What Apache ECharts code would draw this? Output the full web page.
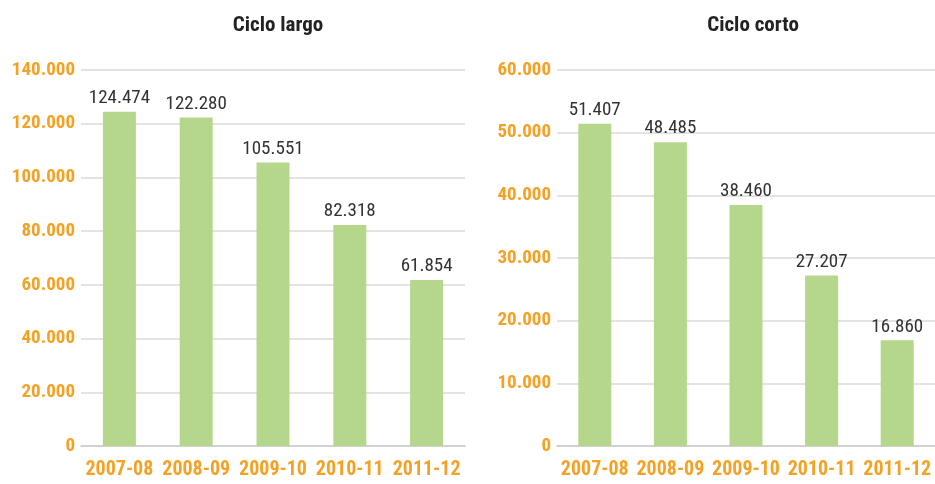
<!DOCTYPE html>
<html>
<head>
<meta charset="utf-8">
<script src="https://cdn.jsdelivr.net/npm/echarts@6/dist/echarts.min.js"></script>
<style>
  html, body { margin: 0; padding: 0; background: #fff; }
  #chart { width: 935px; height: 484px; }
</style>
</head>
<body>
<div id="chart"></div>
<script>
// School years shown on both panels
const categories = ['2007-08', '2008-09', '2009-10', '2010-11', '2011-12'];
// Enrolment, long cycle
const cicloLargo = [124474, 122280, 105551, 82318, 61854];
// Enrolment, short cycle
const cicloCorto = [51407, 48485, 38460, 27207, 16860];
const titles = ['Ciclo largo', 'Ciclo corto'];

const FONT = 'Roboto, sans-serif';
const STRETCH = 'condensed';
const ORANGE = '#F5A124';
const BAR = '#B5D78B';

// Spanish thousands separator: 124474 -> "124.474"
function fmt(v) {
  return String(Math.round(v)).replace(/\B(?=(\d{3})+(?!\d))/g, '.');
}

const grids = [
  { left: 81, top: 70, width: 384, bottom: 38 },
  { left: 557, top: 70, width: 384, bottom: 38 }
];

function xAxis(i) {
  return {
    type: 'category', gridIndex: i, data: categories,
    axisTick: { show: false },
    axisLine: { show: true, lineStyle: { color: '#CBCBCB', width: 1.5 } },
    axisLabel: { interval: 0, color: ORANGE, fontFamily: FONT, fontStyle: STRETCH, fontWeight: 'bold', fontSize: 20, margin: 14 }
  };
}
function yAxis(i, max, interval) {
  return {
    type: 'value', gridIndex: i, min: 0, max: max, interval: interval,
    axisLine: { show: false }, axisTick: { show: false },
    splitLine: { lineStyle: { color: '#DADADA', width: 1.5 } },
    axisLabel: { color: ORANGE, fontFamily: FONT, fontStyle: STRETCH, fontWeight: 'bold', fontSize: 19, margin: 6, formatter: fmt }
  };
}
function series(i, data) {
  return {
    type: 'bar', xAxisIndex: i, yAxisIndex: i, data: data,
    barWidth: 33,
    itemStyle: { color: BAR },
    label: {
      show: true, position: 'top', distance: 4,
      color: '#333', fontFamily: FONT, fontStyle: STRETCH, fontSize: 19,
      formatter: p => fmt(p.value)
    }
  };
}

const titleStyle = { fontFamily: FONT, fontStyle: STRETCH, fontSize: 21, fontWeight: 'bold', color: '#222' };

const chart = echarts.init(document.getElementById('chart'), null, { renderer: 'canvas' });
chart.setOption({
  animation: false,
  title: [
    { text: titles[0], left: 273, top: 10, textAlign: 'center', textStyle: titleStyle },
    { text: titles[1], left: 748, top: 10, textAlign: 'center', textStyle: titleStyle }
  ],
  grid: grids,
  xAxis: [xAxis(0), xAxis(1)],
  yAxis: [yAxis(0, 140000, 20000), yAxis(1, 60000, 10000)],
  series: [series(0, cicloLargo), series(1, cicloCorto)]
});
</script>
</body>
</html>
